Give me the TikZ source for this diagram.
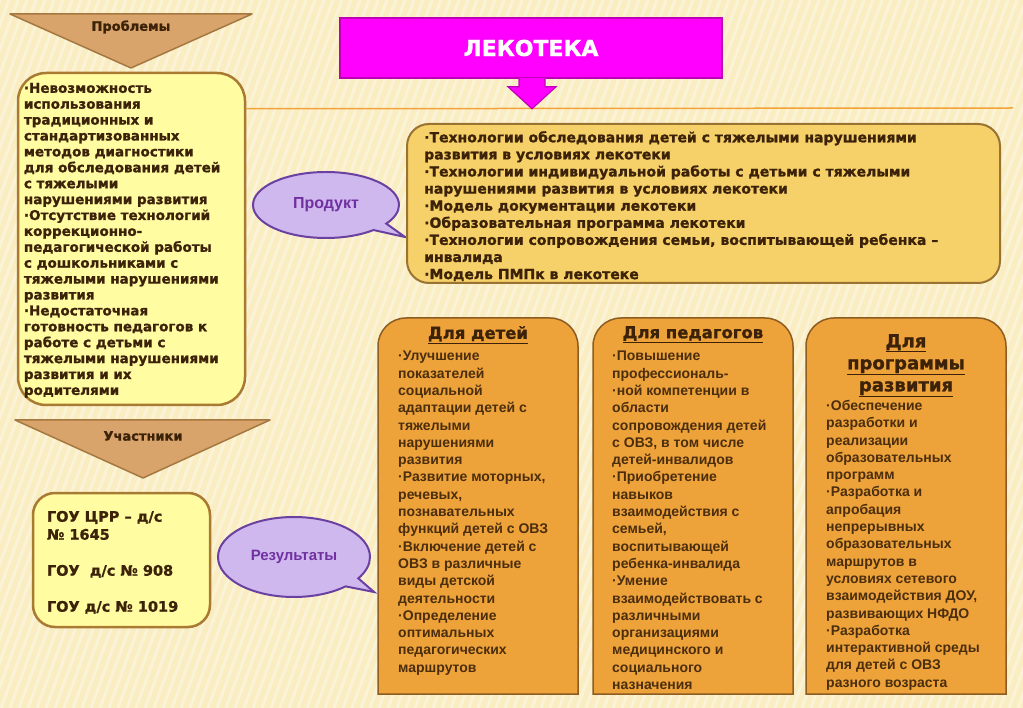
\documentclass[tikz,border=0pt]{standalone}
\usepackage{fontspec}
\setmainfont{Liberation Sans}
\newfontfamily\heavyfont{DejaVu Sans}[BoldFeatures={FakeBold=1.2}]
\usetikzlibrary{positioning,calc,shapes.callouts}

\definecolor{bgcream}{HTML}{FAEDC2}
\definecolor{tanfill}{HTML}{D8A46C}
\definecolor{tandraw}{HTML}{A47840}
\definecolor{yfill}{HTML}{FFFCA2}
\definecolor{ydraw}{HTML}{A87A32}
\definecolor{prodfill}{HTML}{F6D068}
\definecolor{proddraw}{HTML}{9A7232}
\definecolor{orfill}{HTML}{EEA23A}
\definecolor{ordraw}{HTML}{8C5C22}
\definecolor{lavfill}{HTML}{CFB8EE}
\definecolor{lavdraw}{HTML}{6A40A0}
\definecolor{lavtext}{HTML}{7030A0}
\definecolor{magfill}{HTML}{FF00FF}
\definecolor{magdraw}{HTML}{C000B8}
\definecolor{lineor}{HTML}{F2A33A}
\definecolor{textbrown}{HTML}{3C2208}
\definecolor{bodybrown}{HTML}{4B2E0E}

\begin{document}
\begin{tikzpicture}[x=1pt, y=1pt,
    stripe/.style={white, opacity=0.35, line width=3pt},
    tri/.style={fill=tanfill, draw=tandraw, line width=1.5pt, line join=round},
    tritext/.style={font=\heavyfont\bfseries\fontsize{13}{15}\selectfont, text=textbrown, inner sep=0pt},
    ybox/.style={rectangle, fill=yfill, draw=ydraw, line width=2.5pt, inner sep=0pt},
    heavytext/.style={font=\heavyfont\bfseries\fontsize{13.5}{15.9}\selectfont, text=textbrown, align=left, inner sep=0pt},
    prodbox/.style={rectangle, rounded corners=22pt, fill=prodfill, draw=proddraw, line width=2pt, inner sep=0pt},
    prodtext/.style={font=\heavyfont\bfseries\fontsize{14}{17.1}\selectfont, text=textbrown, align=left, inner sep=0pt},
    callout/.style={ellipse callout, fill=lavfill, draw=lavdraw, line width=2pt, inner sep=0pt, text=lavtext},
    lekbox/.style={rectangle, fill=magfill, draw=magdraw, line width=1.5pt, text=white,
                   font=\heavyfont\bfseries\fontsize{22}{26}\selectfont},
    lekarrow/.style={fill=magfill, draw=magdraw, line width=1.2pt, line join=miter},
    orline/.style={lineor, line width=1.5pt},
    resframe/.style={rectangle, minimum width=200, minimum height=376, inner sep=0pt, outer sep=0pt},
    resbox/.style={fill=orfill, draw=ordraw, line width=1.5pt},
    reshead/.style={font=\heavyfont\bfseries\fontsize{16.5}{22}\selectfont, text=textbrown, align=center, inner sep=0pt},
    resbody/.style={font=\bfseries\fontsize{14}{17.3}\selectfont, text=bodybrown, align=left, inner sep=0pt}]

  \useasboundingbox (0,0) rectangle (1023,-708);

  % --- Background ---
  \begin{scope}
    \clip (0,0) rectangle (1023,-708);
    \fill[bgcream] (0,0) rectangle (1023,-708);
    \foreach \s in {0,9,...,1500}
      \draw[stripe] (\s,0) -- (\s-260,-708);
  \end{scope}

  % --- Left column: problems ---
  \draw[tri] (10,-14) -- (252,-14) -- (131,-68) -- cycle;
  \node[tritext] (probtitle) at (131,-27) {Проблемы};

  \node[ybox, rounded corners=28pt, minimum width=227, minimum height=332] (probbox) at (131.5,-239) {};
  \node[heavytext, below right=11pt and 7pt of probbox.north west] (probtext)
    {·Невозможность\\использования\\традиционных и\\стандартизованных\\методов диагностики\\для обследования детей\\с тяжелыми\\нарушениями развития\\·Отсутствие технологий\\коррекционно-\\педагогической работы\\с дошкольниками с\\тяжелыми нарушениями\\развития\\·Недостаточная\\готовность педагогов к\\работе с детьми с\\тяжелыми нарушениями\\развития и их\\родителями};

  % --- Left column: participants ---
  \draw[tri] (15,-420) -- (270,-420) -- (143,-478) -- cycle;
  \node[tritext] (parttitle) at (143,-436) {Участники};

  \node[ybox, rounded corners=22pt, minimum width=177, minimum height=134] (partbox) at (121.5,-560) {};
  \node[heavytext, font=\heavyfont\bfseries\fontsize{14.5}{18}\selectfont, below right=19pt and 15pt of partbox.north west] (parttext)
    {ГОУ ЦРР – д/с\\№ 1645\\[18pt]ГОУ~~д/с № 908\\[18pt]ГОУ д/с № 1019};

  % --- Callouts ---
  \node[callout, minimum width=146, minimum height=66, callout absolute pointer={(405,-237)},
        font=\bfseries\fontsize{16}{18}\selectfont] (product) at (326,-205) {Продукт};
  \node[callout, minimum width=152, minimum height=80, callout absolute pointer={(374,-592)},
        font=\bfseries\fontsize{15}{18}\selectfont] (results) at (294,-557) {Результаты};

  % --- Lekoteka header and arrow ---
  \coordinate (lineend) at (1013,-108);
  \node[lekbox, minimum width=382, minimum height=60] (lek) at (531,-48) {ЛЕКОТЕКА};
  \coordinate (tip) at ($(lek.south)+(1,-30)$);
  \draw[orline] (probbox.east |- tip) -- (lineend);
  \filldraw[lekarrow] ($(lek.south)+(-12,0.8)$) -- ++(0,-8.8) -- ++(-11,0) -- (tip)
    -- ($(lek.south)+(25,-8)$) -- ++(-11,0) -- ++(0,8.8);

  % --- Product box ---
  \node[prodbox, minimum width=593, minimum height=159] (prod) at (703.5,-203.5) {};
  \node[prodtext, below right=8pt and 18pt of prod.north west] (prodtext)
    {·Технологии обследования детей с тяжелыми нарушениями\\развития в условиях лекотеки\\·Технологии индивидуальной работы с детьми с тяжелыми\\нарушениями развития в условиях лекотеки\\·Модель документации лекотеки\\·Образовательная программа лекотеки\\·Технологии сопровождения семьи, воспитывающей ребенка –\\инвалида\\·Модель ПМПк в лекотеке};

  % --- Result boxes ---
  \node[resframe] (kids) at (478,-506) {};
  \node[resframe] (teach) at (693,-506) {};
  \node[resframe] (prog) at (906,-506) {};
  \foreach \b in {kids,teach,prog}
    \draw[resbox] (\b.south west) -- ([yshift=-28pt]\b.north west)
      arc[start angle=180, end angle=90, radius=28pt] -- ([xshift=-28pt]\b.north east)
      arc[start angle=90, end angle=0, radius=28pt] -- (\b.south east) -- cycle;

  \node[reshead, below=8pt of kids.north] (kidshead) {\underline{Для детей}};
  \node[resbody, below right=33pt and 20pt of kids.north west] (kidstext)
    {·Улучшение\\показателей\\социальной\\адаптации детей с\\тяжелыми\\нарушениями\\развития\\·Развитие моторных,\\речевых,\\познавательных\\функций детей с ОВЗ\\·Включение детей с\\ОВЗ в различные\\виды детской\\деятельности\\·Определение\\оптимальных\\педагогических\\маршрутов};

  \node[reshead, below=8pt of teach.north] (teachhead) {\underline{Для педагогов}};
  \node[resbody, below right=33pt and 19pt of teach.north west] (teachtext)
    {·Повышение\\профессиональ-\\·ной компетенции в\\области\\сопровождения детей\\с ОВЗ, в том числе\\детей-инвалидов\\·Приобретение\\навыков\\взаимодействия с\\семьей,\\воспитывающей\\ребенка-инвалида\\·Умение\\взаимодействовать с\\различными\\организациями\\медицинского и\\социального\\назначения};

  \node[reshead, font=\heavyfont\bfseries\fontsize{18}{22}\selectfont, below=16pt of prog.north] (proghead)
    {\underline{Для}\\\underline{программы}\\\underline{развития}};
  \node[resbody, below right=82pt and 20pt of prog.north west] (progtext)
    {·Обеспечение\\разработки и\\реализации\\образовательных\\программ\\·Разработка и\\апробация\\непрерывных\\образовательных\\маршрутов в\\условиях сетевого\\взаимодействия ДОУ,\\развивающих НФДО\\·Разработка\\интерактивной среды\\для детей с ОВЗ\\разного возраста};
\end{tikzpicture}
\end{document}
